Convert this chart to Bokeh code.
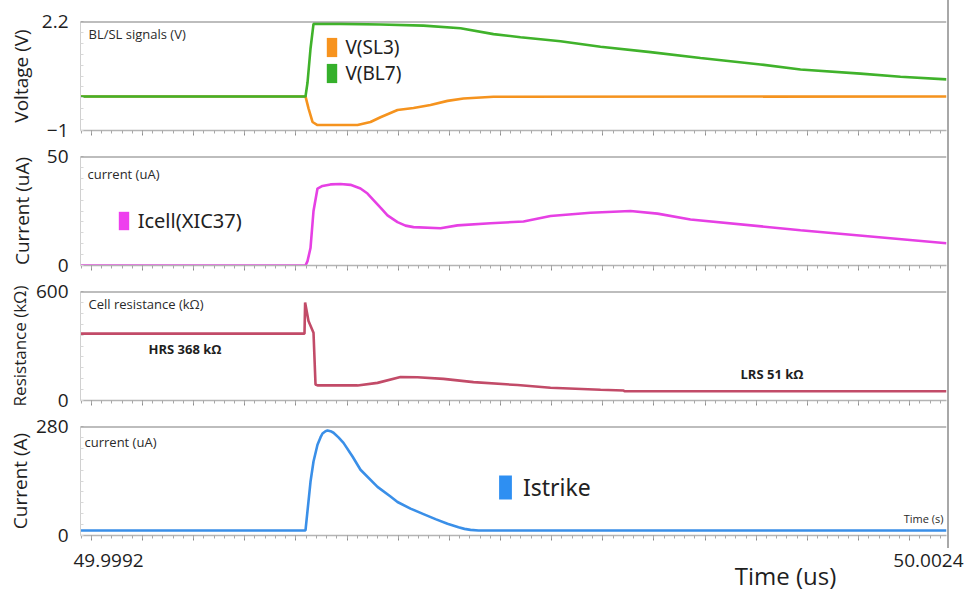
import numpy as np
from bokeh.plotting import figure
from bokeh.layouts import column
from bokeh.models import (Range1d, FixedTicker, Span, Label, Legend, LegendItem,
                          CustomJSTickFormatter)
from bokeh.embed import file_html
from bokeh.resources import INLINE

# ---- time axis (us) ----
T_START, T_END = 49.9992, 50.0024
time_tick_labels = ["49.9992", "50.0024"]

# ---- BL/SL signals (V) ----
t_bl7 = [49.9992, 50.0000314, 50.0000388, 50.0000499, 50.0000610, 50.0001607,
         50.0003085, 50.0004674, 50.0006042, 50.0007261, 50.0008259, 50.0009737,
         50.0011215, 50.0013062, 50.0014910, 50.0017127, 50.0018605, 50.0020822,
         50.0022300, 50.0024]
v_bl7 = [0.0, 0.0, 0.4, 1.4, 2.13, 2.13, 2.11, 2.08, 2.00, 1.83, 1.74, 1.62,
         1.46, 1.30, 1.13, 0.94, 0.79, 0.67, 0.58, 0.50]

t_sl3 = [49.9992, 50.0000314, 50.0000425, 50.0000573, 50.0000757, 50.0002236,
         50.0002716, 50.0003085, 50.0003714, 50.0004305, 50.0004933, 50.0005561,
         50.0006152, 50.0007261, 50.0024]
v_sl3 = [0.0, 0.0, -0.35, -0.75, -0.84, -0.84, -0.75, -0.61, -0.40, -0.34,
         -0.25, -0.13, -0.06, -0.01, 0.0]

# ---- cell current (uA) ----
t_cell = [49.9992, 50.0000314, 50.0000388, 50.0000499, 50.0000610, 50.0000757,
          50.0000942, 50.0001238, 50.0001607, 50.0001977, 50.0002346, 50.0002605,
          50.0002827, 50.0003085, 50.0003344, 50.0003714, 50.0004009, 50.0004305,
          50.0005303, 50.0005931, 50.0007150, 50.0008370, 50.0009367, 50.0010845,
          50.0012323, 50.0013321, 50.0014540, 50.0018605, 50.0024]
i_cell = [0.0, 0.0, 2.0, 8.0, 25.0, 35.3, 36.5, 37.2, 37.4, 37.0, 35.3, 33.0,
          30.0, 26.5, 23.0, 19.9, 18.3, 17.6, 17.1, 18.4, 19.4, 20.2, 22.7,
          24.2, 25.0, 23.8, 21.1, 16.2, 10.2]

# ---- cell resistance (kOhm) ----
HRS_KOHM = 368
LRS_KOHM = 51
t_res = [49.9992, 50.0000277, 50.0000300, 50.0000425, 50.0000610, 50.0000684,
         50.0000757, 50.0002236, 50.0002975, 50.0003824, 50.0004453, 50.0005413,
         50.0006522, 50.0008148, 50.0009367, 50.0011215, 50.0012065, 50.0012102,
         50.0024]
r_res = [HRS_KOHM, HRS_KOHM, 539, 438, 373, 88, 83, 83, 97, 129, 128, 119,
         101, 85, 70, 59, 55, LRS_KOHM, LRS_KOHM]

# ---- strike current ----
t_strike = [49.9992, 50.0000314, 50.0000499, 50.0000610, 50.0000757, 50.0000868,
            50.0000942, 50.0001053, 50.0001127, 50.0001238, 50.0001349, 50.0001533,
            50.0001718, 50.0002051, 50.0002346, 50.0002975, 50.0003455, 50.0003714,
            50.0004194, 50.0004674, 50.0005118, 50.0005561, 50.0005968, 50.0006189,
            50.0006411, 50.0006707, 50.0024]
i_strike = [13, 13, 138, 190, 233, 252, 262, 268, 270, 268, 264, 252, 238, 203,
            169, 125, 100, 86, 69, 55, 42, 30, 21, 17, 14.5, 13, 13]

FONT = "Open Sans"
LEG_FONT = "Noto Sans"
TXT = "#1e1e1e"

FRAME_W, FRAME_H = 866, 109
LEFT, RIGHT = 80, 32

x_range = Range1d(T_START, T_END)
major_x = list(49.99924 + 0.000189 * np.arange(17))
minor_x = list(49.99924 + 0.0000378 * np.arange(-1, 85))
no_labels = CustomJSTickFormatter(code="return ''")


def panel(y_lo, y_hi, y_label, title, title_dy, title_dx, top, label_standoff,
          label_size="19px"):
    p = figure(width=LEFT + FRAME_W + 1, height=top + FRAME_H + 13,
               x_range=x_range, y_range=Range1d(y_lo, y_hi),
               output_backend="svg", toolbar_location=None,
               min_border_left=LEFT, min_border_right=1,
               min_border_top=top, min_border_bottom=13)
    p.grid.visible = False
    p.outline_line_color = None
    p.background_fill_color = "white"
    p.border_fill_color = "white"

    xa = p.xaxis[0]
    xa.ticker = FixedTicker(ticks=major_x, minor_ticks=minor_x)
    xa.formatter = no_labels
    xa.major_label_standoff = 0
    xa.axis_line_color = "#b4b4b4"
    xa.axis_line_width = 1.5
    xa.major_tick_line_color = "#8c8c8c"
    xa.minor_tick_line_color = "#a8a8a8"
    xa.major_tick_out, xa.major_tick_in = 5, 0
    xa.minor_tick_out, xa.minor_tick_in = 3, 0

    ya = p.yaxis[0]
    ya.ticker = FixedTicker(ticks=[y_lo, y_hi],
                            minor_ticks=list(np.linspace(y_lo, y_hi, 11)))
    ya.axis_line_color = "#d0d0d0"
    ya.major_tick_line_color = None
    ya.minor_tick_line_color = "#d8d8d8"
    ya.minor_tick_in, ya.minor_tick_out = 3, 0
    ya.major_label_standoff = 6
    ya.major_label_text_font = FONT
    ya.major_label_text_font_size = "19px"
    ya.major_label_text_color = TXT
    ya.axis_label = y_label
    ya.axis_label_text_font = FONT
    ya.axis_label_text_font_size = label_size
    ya.axis_label_text_font_style = "normal"
    ya.axis_label_text_color = TXT
    ya.axis_label_standoff = label_standoff

    p.add_layout(Span(location=y_hi, dimension="width", line_color="#7c7c7c",
                      line_width=2))
    p.add_layout(Label(x=title_dx, y=FRAME_H - title_dy, x_units="screen",
                       y_units="screen", text=title, text_font=FONT,
                       text_font_size="13px", text_color="#2a2a2a",
                       text_baseline="middle"))
    return p


def legend_box(p, entries, x, y, gw, gh, font_size, standoff):
    y0 = p.y_range.start
    items = []
    for name, color in entries:
        # zero-height bar: only its legend swatch shows
        r = p.vbar(x=[T_START], bottom=[y0], top=[y0], width=0,
                   fill_color=color, line_color=None)
        items.append(LegendItem(label=name, renderers=[r]))
    lg = Legend(items=items, location=(x, y), glyph_width=gw, glyph_height=gh,
                label_height=gh, spacing=0, padding=0, margin=0,
                label_standoff=standoff, label_text_font=LEG_FONT,
                label_text_font_size=font_size, label_text_color="#222222",
                label_text_baseline="middle",
                border_line_color=None, background_fill_alpha=0)
    p.add_layout(lg)


# Panel 1: bit-line / source-line voltages
p1 = panel(-1, 2.2, "Voltage (V)", "BL/SL signals (V)", 12, 8, 21, 5)
p1.line(t_sl3, v_sl3, line_color="#f5931e", line_width=2.6)
p1.line(t_bl7, v_bl7, line_color="#40b22b", line_width=2.6)
legend_box(p1, [("V(SL3)", "#f7931e"), ("V(BL7)", "#35b02b")],
           245.4, 44.5, 13, 24, "19px", 7)

# Panel 2: cell current
p2 = panel(0, 50, "Current (uA)", "current (uA)", 17, 7, 13, 9)
p2.line(t_cell, i_cell, line_color="#e640e4", line_width=2.6)
legend_box(p2, [("Icell(XIC37)", "#ee3fee")], 36.7, 31.5, 13, 23, "20px", 8)

# Panel 3: cell resistance
p3 = panel(0, 600, "Resistance (kΩ)", "Cell resistance (kΩ)", 12, 8, 13, 2,
           label_size="17px")
p3.line(t_res, r_res, line_color="#c24b68", line_width=2.6)
p3.add_layout(Label(x=68, y=52, x_units="screen", y_units="screen",
                    text=f"HRS {HRS_KOHM} kΩ", text_font=FONT,
                    text_font_size="13px", text_font_style="bold",
                    text_color=TXT, text_baseline="middle"))
p3.add_layout(Label(x=660, y=27, x_units="screen", y_units="screen",
                    text=f"LRS {LRS_KOHM} kΩ", text_font=FONT,
                    text_font_size="13px", text_font_style="bold",
                    text_color=TXT, text_baseline="middle"))

# Panel 4: strike current
p4 = panel(0, 280, "Current (A)", "current (uA)", 15, 4, 13, 0)
p4.line(t_strike, i_strike, line_color="#3a8fe8", line_width=2.6)
legend_box(p4, [("Istrike", "#2e8ff2")], 416.9, 32, 16, 30, "23px", 10)
p4.add_layout(Label(x=FRAME_W - 3, y=17, x_units="screen", y_units="screen",
                    text="Time (s)", text_font=FONT, text_font_size="11px",
                    text_color="#2a2a2a", text_align="right",
                    text_baseline="middle"))

# Bottom strip: same time scale, frame widened to the full page width
k = (T_END - T_START) / FRAME_W
strip_range = Range1d(T_START - LEFT * k, T_END + RIGHT * k)
p5 = figure(width=LEFT + FRAME_W + RIGHT, height=44, x_range=strip_range,
            y_range=Range1d(0, 1), output_backend="svg",
            toolbar_location=None, x_axis_location=None, y_axis_location=None,
            min_border_left=0, min_border_right=0,
            min_border_top=0, min_border_bottom=0)
p5.grid.visible = False
p5.outline_line_color = None
p5.add_layout(Label(x=T_START, y=32, y_units="screen", x_offset=-7,
                    text=time_tick_labels[0], text_font=FONT,
                    text_font_size="19px", text_color=TXT,
                    text_align="left", text_baseline="middle"))
p5.add_layout(Label(x=T_END, y=32, y_units="screen", x_offset=17,
                    text=time_tick_labels[1], text_font=FONT,
                    text_font_size="19px", text_color=TXT,
                    text_align="right", text_baseline="middle"))
p5.add_layout(Label(x=LEFT + 705, y=17, x_units="screen", y_units="screen",
                    text="Time (us)", text_font=FONT, text_font_size="24px",
                    text_color=TXT, text_align="center",
                    text_baseline="middle"))

panels = column(p1, p2, p3, p4, styles={"border-right": "2px solid #a8a8a8"})
layout = column(panels, p5)

open("out.html", "w").write(file_html(layout, INLINE))
